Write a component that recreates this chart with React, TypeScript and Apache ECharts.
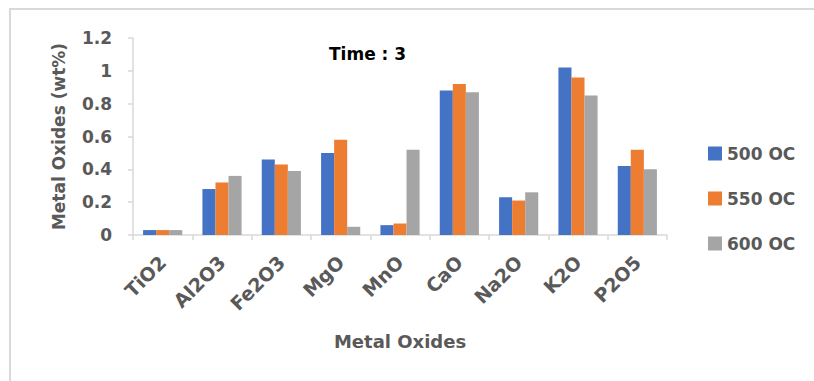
import React, { useEffect, useRef } from "react";
import * as echarts from "echarts";

// Metal oxide composition (wt%) at three calcination temperatures, time 3
const oxides = ["TiO2", "Al2O3", "Fe2O3", "MgO", "MnO", "CaO", "Na2O", "K2O", "P2O5"];
const temp500 = [0.03, 0.28, 0.46, 0.5, 0.06, 0.88, 0.23, 1.02, 0.42];
const temp550 = [0.03, 0.32, 0.43, 0.58, 0.07, 0.92, 0.21, 0.96, 0.52];
const temp600 = [0.03, 0.36, 0.39, 0.05, 0.52, 0.87, 0.26, 0.85, 0.4];
const seriesNames = ["500 OC", "550 OC", "600 OC"];
const colors = ["#4472C4", "#ED7D31", "#A5A5A5"];

const FONT = "DejaVu Sans";
const TEXT = "#595959";
const AXIS = "#d9d9d9";

export default function App() {
  const ref = useRef<HTMLDivElement>(null);

  useEffect(() => {
    if (!ref.current) return;
    const chart = echarts.init(ref.current, undefined, { renderer: "svg" });
    const values = [temp500, temp550, temp600];
    chart.setOption({
      animation: false,
      backgroundColor: "#ffffff",
      textStyle: { fontFamily: FONT },
      graphic: [
        {
          type: "rect",
          shape: { x: 10, y: 9, width: 900, height: 500 },
          style: { fill: "none", stroke: "#d9d9d9", lineWidth: 2 },
          silent: true,
        },
        {
          type: "text",
          left: 329,
          top: 45,
          style: {
            text: "Time : 3",
            fill: "#000000",
            font: `bold 17px "${FONT}"`,
          },
        },
      ],
      legend: {
        orient: "vertical",
        left: 708,
        top: 145,
        padding: 0,
        itemWidth: 14,
        itemHeight: 14,
        itemGap: 28,
        icon: "rect",
        textStyle: {
          color: TEXT,
          fontSize: 17,
          fontWeight: "bold",
          fontFamily: FONT,
          lineHeight: 17,
        },
        data: seriesNames,
      },
      grid: { left: 133, right: 147, top: 38, bottom: 146 },
      xAxis: {
        type: "category",
        data: oxides,
        name: "Metal Oxides",
        nameLocation: "middle",
        nameGap: 97,
        nameTextStyle: { color: TEXT, fontSize: 18, fontWeight: "bold", fontFamily: FONT },
        axisLine: { lineStyle: { color: AXIS, width: 1.5 } },
        axisTick: { show: true, length: 5, lineStyle: { color: AXIS, width: 1.5 } },
        axisLabel: {
          rotate: 45,
          margin: 24,
          color: TEXT,
          fontSize: 19,
          fontWeight: "bold",
          fontFamily: FONT,
        },
      },
      yAxis: {
        type: "value",
        min: 0,
        max: 1.2,
        interval: 0.2,
        name: "Metal Oxides (wt%)",
        nameLocation: "middle",
        nameGap: 66,
        nameTextStyle: { color: TEXT, fontSize: 17, fontWeight: "bold", fontFamily: FONT },
        splitLine: { show: false },
        axisLine: { show: true, lineStyle: { color: AXIS, width: 1.5 } },
        axisTick: { show: true, length: 5, lineStyle: { color: AXIS, width: 1.5 } },
        axisLabel: {
          margin: 21,
          color: TEXT,
          fontSize: 17,
          fontWeight: "bold",
          fontFamily: FONT,
        },
      },
      series: seriesNames.map((name, i) => ({
        name,
        type: "bar",
        data: values[i],
        barGap: "0%",
        barCategoryGap: "34%",
        itemStyle: { color: colors[i] },
      })),
    });
    return () => chart.dispose();
  }, []);

  return (
    <div
      ref={ref}
      style={{ position: "fixed", left: 0, top: 0, width: 814, height: 381 }}
    />
  );
}
